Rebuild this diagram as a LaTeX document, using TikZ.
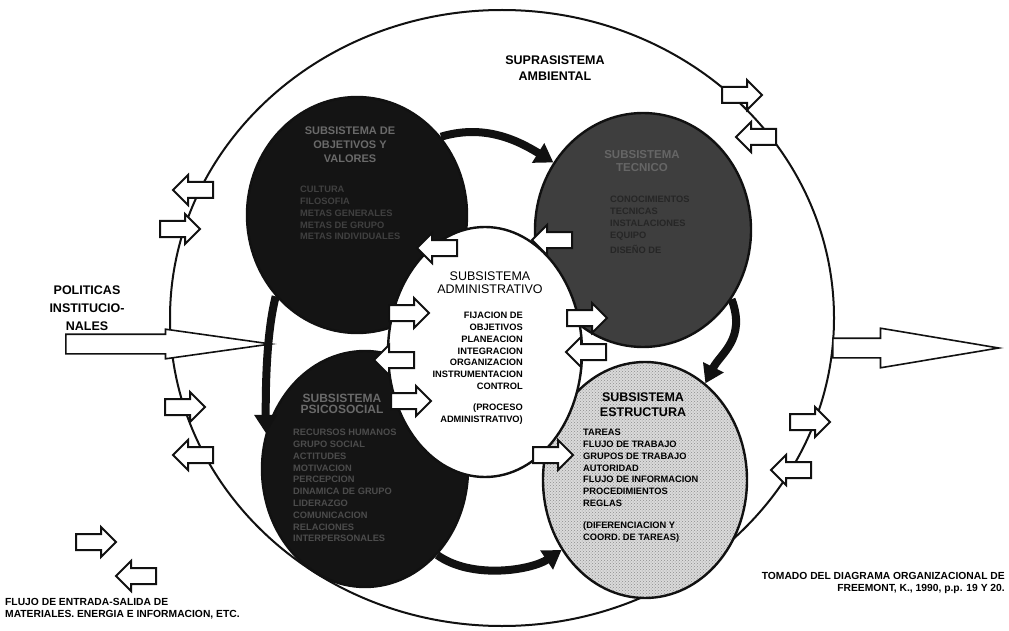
\documentclass[tikz,border=0pt]{standalone}
\usepackage{fontspec}
\setmainfont{Liberation Sans}
\usetikzlibrary{arrows.meta,positioning,shapes.geometric,shapes.arrows,patterns}
\definecolor{tinta}{HTML}{111111}
\definecolor{oscuro}{HTML}{141414}
\definecolor{medio}{HTML}{3E3E3E}
\definecolor{claro}{HTML}{DADADA}
\definecolor{tenue}{HTML}{6A6A6A}

\tikzset{
  subsis/.style={ellipse, draw=tinta, line width=2.4pt, inner sep=0pt},
  flujo/.style={single arrow, draw=tinta, fill=white, line width=2pt, inner sep=7pt,
    minimum height=40pt, single arrow head extend=7pt, single arrow tip angle=90},
  flujoizq/.style={flujo, shape border rotate=180},
  entrada/.style={single arrow, draw=tinta, fill=white, line width=1.6pt, anchor=tail},
  enlace/.style={line width=8pt, tinta, -{Triangle[length=18pt,width=22pt]}},
  titulo/.style={font=\fontsize{12.5}{13}\selectfont, align=center, inner sep=0pt},
  titulob/.style={font=\fontsize{12.5}{15}\selectfont\bfseries, align=center, inner sep=0pt},
  lista/.style={font=\fontsize{9.3}{11.8}\selectfont\bfseries, inner sep=0pt},
  nota/.style={font=\fontsize{10.3}{12}\selectfont\bfseries, inner sep=0pt}
}

\begin{document}
\begin{tikzpicture}[x=1pt,y=-1pt]
  \fill[white] (0,0) rectangle (1009,631);
  \useasboundingbox (0,0) rectangle (1009,631);

  % suprasistema
  \node[subsis, line width=2pt, minimum width=664pt, minimum height=616pt] (supra) at (502,318) {};
  \node[titulob, font=\fontsize{12.5}{16}\selectfont\bfseries] (supratxt) at (555,68) {SUPRASISTEMA\\AMBIENTAL};

  % subsistemas
  \node[subsis, fill=oscuro, minimum width=220pt, minimum height=236pt] (objetivos) at (357,215) {};
  \node[subsis, fill=medio, minimum width=216pt, minimum height=234pt] (tecnico) at (643,230) {};
  \node[subsis, fill=oscuro, minimum width=206pt, minimum height=236pt] (psico) at (365,469) {};
  \node[subsis, preaction={fill=claro}, pattern=crosshatch dots, pattern color=black!45,
    minimum width=204pt, minimum height=236pt] (estructura) at (645,480) {};
  \node[subsis, fill=white, minimum width=194pt, minimum height=250pt] (admin) at (485,352) {};

  % enlaces entre subsistemas
  \draw[enlace] (objetivos.43) .. controls +(40,-12) and +(-40,-25) .. (tecnico.143);
  \draw[enlace] (tecnico.-38) .. controls +(15,40) and +(15,-30) .. (estructura.58);
  \draw[enlace] (psico.-50) .. controls +(35,25) and +(-30,20) .. (estructura.-140);
  \draw[enlace] (objetivos.-135) .. controls +(-10,40) and +(0,-40) .. (psico.160);

  % textos
  \node[titulob, text=tenue, font=\fontsize{11}{14}\selectfont\bfseries] (objtit) at (350,145) {SUBSISTEMA DE\\OBJETIVOS Y\\VALORES};
  \node[lista, text=black!75, align=left, anchor=north west] (objlista) at (300,186)
    {CULTURA\\FILOSOFIA\\METAS GENERALES\\METAS DE GRUPO\\METAS INDIVIDUALES};
  \node[titulob, text=black!60, font=\fontsize{11.5}{13}\selectfont\bfseries] (tectit) at (642,161) {SUBSISTEMA\\TECNICO};
  \node[lista, text=black!85, align=left, anchor=north west] (teclista) at (610,196)
    {CONOCIMIENTOS\\TECNICAS\\INSTALACIONES\\EQUIPO\\[4pt]DISEÑO DE};
  \node[titulob, text=tenue, font=\fontsize{12}{11}\selectfont\bfseries] (psicotit) at (342,404) {SUBSISTEMA\\PSICOSOCIAL};
  \node[lista, text=black!70, align=left, anchor=north west] (psicolista) at (293,429)
    {RECURSOS HUMANOS\\GRUPO SOCIAL\\ACTITUDES\\MOTIVACION\\PERCEPCION\\DINAMICA DE GRUPO\\LIDERAZGO\\COMUNICACION\\RELACIONES\\INTERPERSONALES};
  \node[titulob] (esttit) at (643,405) {SUBSISTEMA\\ESTRUCTURA};
  \node[lista, align=left, anchor=north west] (estlista) at (583,429)
    {TAREAS\\FLUJO DE TRABAJO\\GRUPOS DE TRABAJO\\AUTORIDAD\\FLUJO DE INFORMACION\\PROCEDIMIENTOS\\REGLAS\\[10pt](DIFERENCIACION Y\\COORD. DE TAREAS)};
  \node[titulo] (admtit) at (490,283) {SUBSISTEMA\\ADMINISTRATIVO};
  \node[lista, align=right, anchor=north east] (admlista) at (523,312)
    {FIJACION DE\\OBJETIVOS\\PLANEACION\\INTEGRACION\\ORGANIZACION\\INSTRUMENTACION\\CONTROL\\[9pt](PROCESO\\ADMINISTRATIVO)};

  % flujos internos
  \node[flujoizq] (a1) at (441,248) {};
  \node[flujoizq] (a2) at (556,240) {};
  \node[flujo] (a3) at (405,313) {};
  \node[flujo] (a4) at (583,318) {};
  \node[flujoizq] (a5) at (590,352) {};
  \node[flujoizq] (a6) at (398,360) {};
  \node[flujo] (a7) at (407,401) {};
  \node[flujo] (a8) at (549,455) {};

  % flujos con el ambiente
  \node[flujo] (e1) at (738,95) {};
  \node[flujoizq] (s1) at (760,137) {};
  \node[flujoizq] (s2) at (197,190) {};
  \node[flujo] (e2) at (176,229) {};
  \node[flujo] (e3) at (181,407) {};
  \node[flujoizq] (s3) at (197,455) {};
  \node[flujo] (e4) at (806,422) {};
  \node[flujoizq] (s4) at (795,470) {};

  % politicas y salida
  \node[titulob, font=\fontsize{12.5}{18}\selectfont\bfseries] (politicas) at (87,308) {POLITICAS\\INSTITUCIO-\\NALES};
  \node[entrada, minimum height=205pt, inner sep=9pt, single arrow head extend=5pt,
    single arrow tip angle=16] (politicasflecha) at (65,344) {};
  \node[entrada, minimum height=166pt, inner sep=9pt, single arrow head extend=10pt,
    single arrow tip angle=19] (salida) at (832,348) {};

  % leyenda y fuente
  \node[flujo] (le) at (92,542) {};
  \node[flujoizq] (ls) at (140,576) {};
  \node[nota, align=left, anchor=north west] (leyenda) at (5,598)
    {FLUJO DE ENTRADA-SALIDA DE\\MATERIALES. ENERGIA E INFORMACION, ETC.};
  \node[nota, align=right, anchor=north east] (fuente) at (1005,572)
    {TOMADO DEL DIAGRAMA ORGANIZACIONAL DE\\FREEMONT, K., 1990, p.p. 19 Y 20.};
\end{tikzpicture}
\end{document}
